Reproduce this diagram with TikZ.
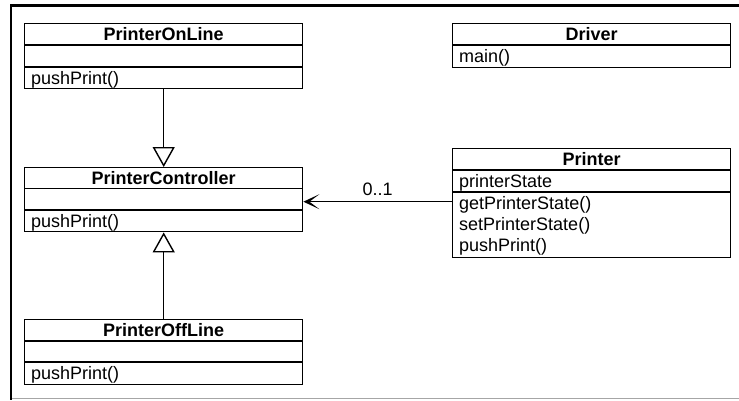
\documentclass[tikz,border=0pt]{standalone}
\usepackage{fontspec}
\setmainfont{Liberation Sans}
\usetikzlibrary{arrows.meta}
\tikzset{
  cls/.style={draw, line width=1.4pt, minimum width=278pt, anchor=north west, inner sep=0pt, fill=white},
  sep/.style={line width=1.4pt},
  ttl/.style={anchor=base, inner sep=0pt, font=\fontsize{18}{21}\selectfont\bfseries},
  mth/.style={anchor=base west, inner sep=0pt, font=\fontsize{18}{21}\selectfont},
  gen/.style={line width=1.4pt, -{Triangle[open, length=20pt, width=22pt, line width=1.4pt]}},
  assoc/.style={line width=1.4pt, -{Stealth[length=16pt, width=15pt, inset=10pt]}},
}
\begin{document}
\begin{tikzpicture}[x=1pt, y=-1pt]
\useasboundingbox (0,0) rectangle (739,400);
% frame
\draw[line width=1.5pt, black!35] (11,398.5) -- (739,398.5);
\draw[line width=2.6pt, black] (739,5.5) -- (11,5.5) -- (11,400);

% PrinterOnLine
\node[cls, minimum height=65pt] (pol) at (24,23) {};
\draw[sep] ([yshift=-22pt]pol.north west) -- ([yshift=-22pt]pol.north east);
\draw[sep] ([yshift=-44pt]pol.north west) -- ([yshift=-44pt]pol.north east);
\node[ttl] (polT) at ([yshift=-17pt]pol.north) {PrinterOnLine};
\node[mth] (polM) at ([xshift=7pt, yshift=-61pt]pol.north west) {pushPrint()};

% PrinterController
\node[cls, minimum height=64pt] (pc) at (24,167) {};
\draw[sep] ([yshift=-21.5pt]pc.north west) -- ([yshift=-21.5pt]pc.north east);
\draw[sep] ([yshift=-43pt]pc.north west) -- ([yshift=-43pt]pc.north east);
\node[ttl] (pcT) at ([yshift=-17pt]pc.north) {PrinterController};
\node[mth] (pcM) at ([xshift=7pt, yshift=-60pt]pc.north west) {pushPrint()};

% PrinterOffLine
\node[cls, minimum height=65pt] (poff) at (24,319) {};
\draw[sep] ([yshift=-22pt]poff.north west) -- ([yshift=-22pt]poff.north east);
\draw[sep] ([yshift=-43pt]poff.north west) -- ([yshift=-43pt]poff.north east);
\node[ttl] (poffT) at ([yshift=-17pt]poff.north) {PrinterOffLine};
\node[mth] (poffM) at ([xshift=7pt, yshift=-60pt]poff.north west) {pushPrint()};

% Driver
\node[cls, minimum height=44pt] (drv) at (452,23) {};
\draw[sep] ([yshift=-22pt]drv.north west) -- ([yshift=-22pt]drv.north east);
\node[ttl] (drvT) at ([yshift=-17pt]drv.north) {Driver};
\node[mth] (drvM) at ([xshift=7pt, yshift=-39pt]drv.north west) {main()};

% Printer
\node[cls, minimum height=109pt] (pr) at (452,148) {};
\draw[sep] ([yshift=-22pt]pr.north west) -- ([yshift=-22pt]pr.north east);
\draw[sep] ([yshift=-44pt]pr.north west) -- ([yshift=-44pt]pr.north east);
\node[ttl] (prT) at ([yshift=-17pt]pr.north) {Printer};
\node[mth] (prA) at ([xshift=7pt, yshift=-39pt]pr.north west) {printerState};
\node[mth] (prM1) at ([xshift=7pt, yshift=-61pt]pr.north west) {getPrinterState()};
\node[mth] (prM2) at ([xshift=7pt, yshift=-82pt]pr.north west) {setPrinterState()};
\node[mth] (prM3) at ([xshift=7pt, yshift=-103pt]pr.north west) {pushPrint()};

% connectors
\draw[gen] (pol.south) -- (pc.north);
\draw[gen] (poff.north) -- (pc.south);
\draw[assoc] ([yshift=-2pt]pc.east -| pr.west) -- ([yshift=-2pt]pc.east)
  node[midway, anchor=base, yshift=6pt, inner sep=0pt, font=\fontsize{18}{21}\selectfont] (mult) {0..1};
\end{tikzpicture}
\end{document}
